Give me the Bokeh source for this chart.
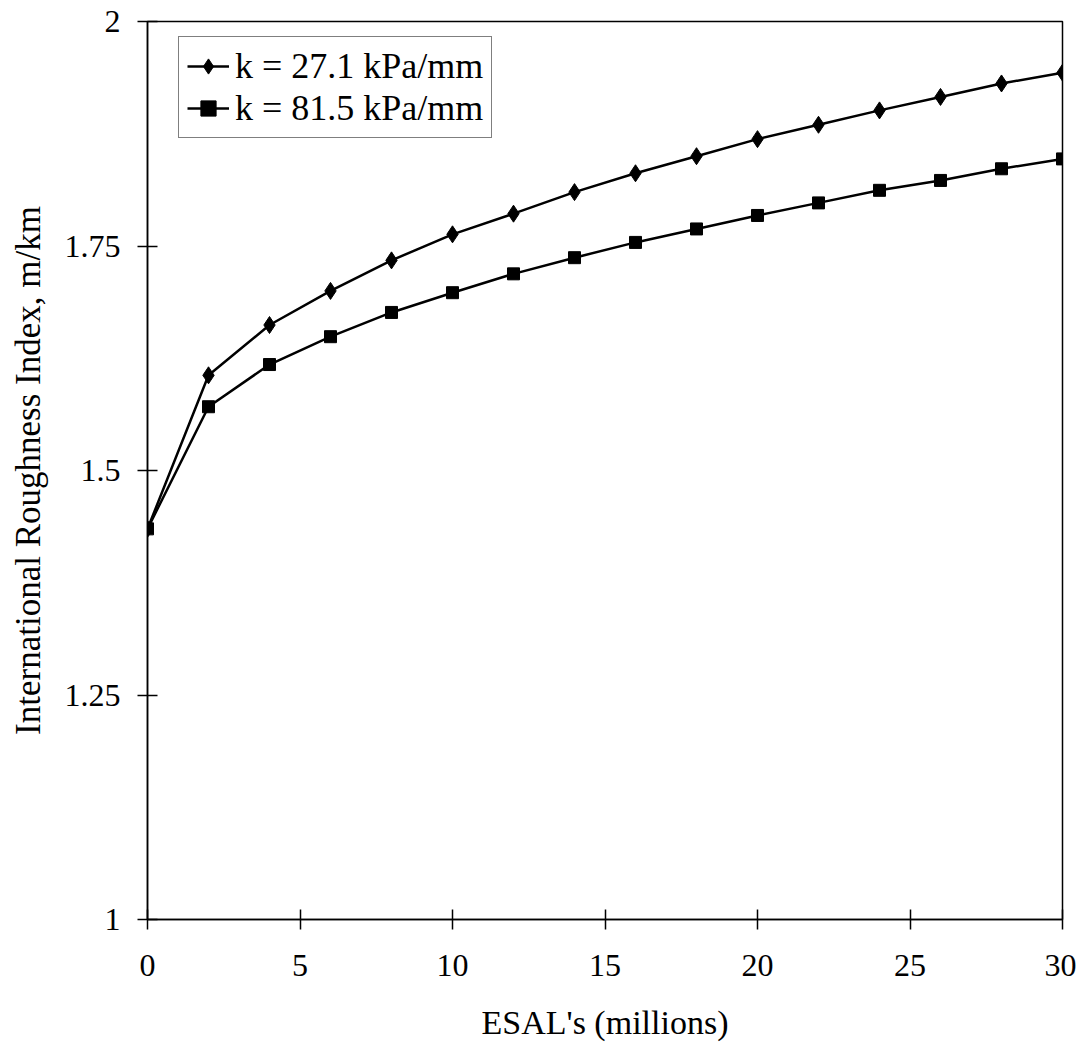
from bokeh.plotting import figure
from bokeh.models import Range1d, Legend, LegendItem, FixedTicker
from bokeh.embed import file_html
from bokeh.resources import INLINE

esals = [0, 2, 4, 6, 8, 10, 12, 14, 16, 18, 20, 22, 24, 26, 28, 30]
iri_k27 = [1.435, 1.606, 1.662, 1.700, 1.734, 1.763, 1.786, 1.810, 1.831, 1.850,
           1.869, 1.885, 1.901, 1.916, 1.931, 1.943]
iri_k81 = [1.435, 1.571, 1.618, 1.649, 1.676, 1.698, 1.719, 1.737, 1.754, 1.769,
           1.784, 1.798, 1.812, 1.823, 1.836, 1.847]
labels = ["k = 27.1 kPa/mm", "k = 81.5 kPa/mm"]
x_ticks = [0, 5, 10, 15, 20, 25, 30]
y_ticks = [1, 1.25, 1.5, 1.75, 2]

FONT = "Liberation Serif"

p = figure(width=1076, height=1044, output_backend="svg", toolbar_location=None,
           x_range=Range1d(0, 30), y_range=Range1d(1, 2),
           min_border_left=147, min_border_right=14, min_border_top=21,
           min_border_bottom=125)
p.background_fill_color = "white"
p.border_fill_color = "white"
p.outline_line_color = "black"
p.outline_line_width = 1.5
p.xgrid.visible = False
p.ygrid.visible = False

for ax in (p.xaxis[0], p.yaxis[0]):
    ax.axis_line_color = "black"
    ax.axis_line_width = 1.5
    ax.major_tick_in = 10
    ax.major_tick_out = 10
    ax.major_tick_line_color = "black"
    ax.major_tick_line_width = 1.5
    ax.minor_tick_line_color = None
    ax.major_label_text_font = FONT
    ax.major_label_text_font_size = "32px"
    ax.major_label_text_color = "black"
    ax.axis_label_text_font = FONT
    ax.axis_label_text_font_style = "normal"
    ax.axis_label_text_color = "black"

p.xaxis[0].ticker = FixedTicker(ticks=x_ticks)
p.yaxis[0].ticker = FixedTicker(ticks=y_ticks)
p.xaxis[0].major_label_standoff = 25
p.yaxis[0].major_label_standoff = 17
p.xaxis[0].axis_label = "ESAL's (millions)"
p.yaxis[0].axis_label = "International Roughness Index, m/km"
p.xaxis[0].axis_label_text_font_size = "34px"
p.yaxis[0].axis_label_text_font_size = "35px"
p.xaxis[0].axis_label_standoff = 25
p.yaxis[0].axis_label_standoff = 14

l1 = p.line(esals, iri_k27, line_color="black", line_width=2.5)
m1 = p.scatter(esals, iri_k27, marker="diamond", size=17, fill_color="black",
               line_color="black")
l2 = p.line(esals, iri_k81, line_color="black", line_width=2.5)
m2 = p.scatter(esals, iri_k81, marker="square", size=12, fill_color="black",
               line_color="black")

legend = Legend(items=[LegendItem(label=labels[0], renderers=[l1, m1]),
                       LegendItem(label=labels[1], renderers=[l2, m2])],
                location=(31, 781))
legend.label_text_font = FONT
legend.label_text_font_size = "36px"
legend.label_text_color = "black"
legend.border_line_color = "black"
legend.border_line_width = 1.5
legend.background_fill_alpha = 1
legend.padding = 8
legend.spacing = 0
legend.margin = 0
legend.glyph_width = 42
legend.glyph_height = 38
legend.label_standoff = 6
legend.label_height = 38
p.add_layout(legend)

open("out.html", "w").write(file_html(p, INLINE))
